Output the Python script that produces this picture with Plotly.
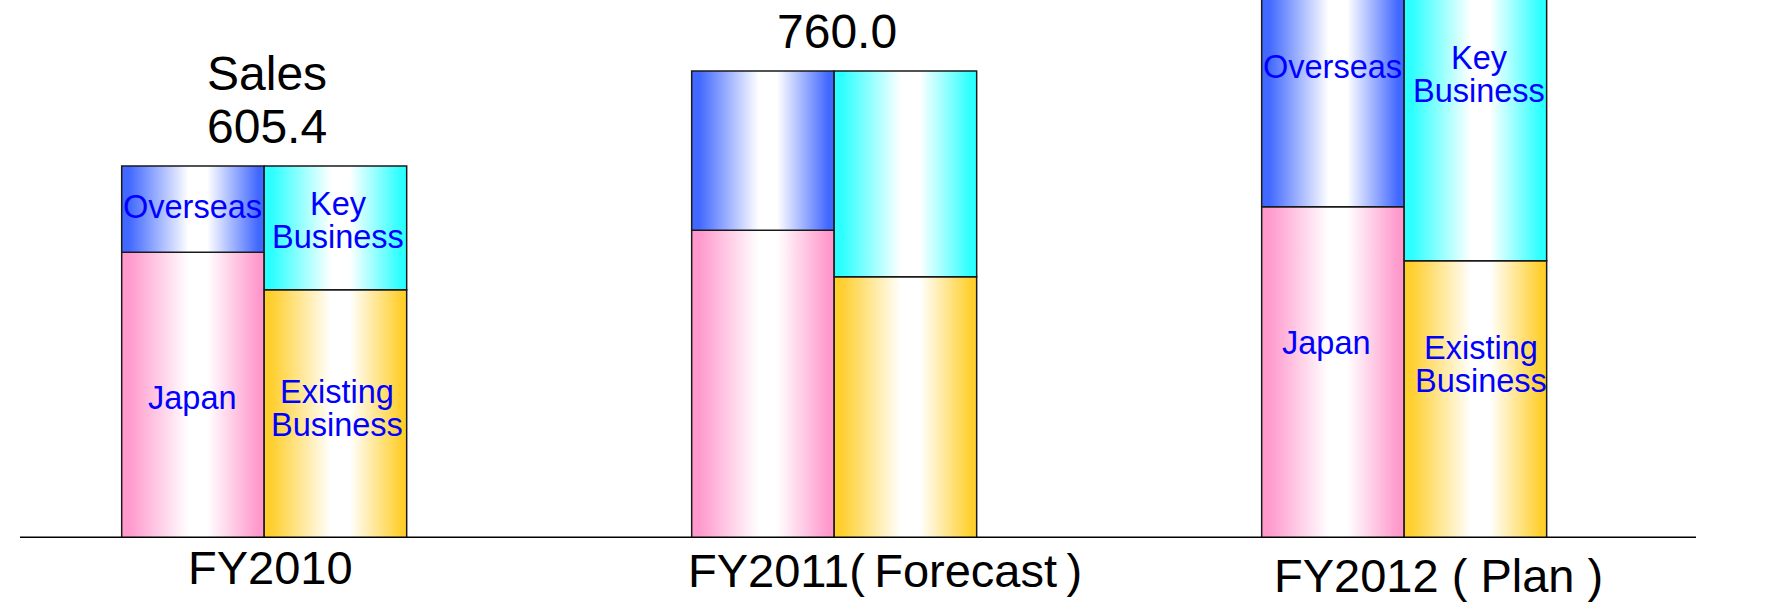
import plotly.graph_objects as go

# ---- data -------------------------------------------------------------
categories = ["FY2010", "FY2011", "FY2012"]
tick_labels = ["FY2010", "FY2011(\u2009Forecast\u2009)", "FY2012 ( Plan )"]

# left column: by region
japan = [465.0, 501.0, 539.0]
overseas = [140.4, 259.0, 461.0]
# right column: by business
existing_business = [404.0, 425.0, 451.0]
key_business = [201.4, 335.0, 549.0]

totals = [j + o for j, o in zip(japan, overseas)]
shown_totals = [True, True, False]

# ---- styling ----------------------------------------------------------
FONT = "Liberation Sans, Arial, Noto Sans CJK JP, sans-serif"
BAR_W = 0.25
OUTLINE = dict(color="#1a1a1a", width=1.5)
LABEL_BLUE = "#0000FF"


def mirror_scale(edge):
    return [[0.0, edge], [0.05, edge], [0.47, "#FFFFFF"], [0.6, "#FFFFFF"],
            [0.96, edge], [1.0, edge]]


PINK = mirror_scale("#FF99CC")
BLUE = mirror_scale("#4168FF")
CYAN = mirror_scale("#2BFFFF")
GOLD = mirror_scale("#FFCF2E")

fig = go.Figure()


def segment(x0, x1, base, value, scale):
    top = base + value
    fig.add_trace(go.Scatter(
        x=[x0, x1, x1, x0, x0],
        y=[base, base, top, top, base],
        mode="lines",
        fill="toself",
        fillgradient=dict(type="horizontal", colorscale=scale),
        line=OUTLINE,
        hoverinfo="skip",
        showlegend=False,
    ))


for i, cat in enumerate(categories):
    c = i
    segment(c - BAR_W, c, 0, japan[i], PINK)
    segment(c - BAR_W, c, japan[i], overseas[i], BLUE)
    segment(c, c + BAR_W, 0, existing_business[i], GOLD)
    segment(c, c + BAR_W, existing_business[i], key_business[i], CYAN)

annotations = []


def text(x, y, s, size, color, xshift=0, yshift=0, xanchor="center"):
    annotations.append(dict(
        x=x, y=y, xref="x", yref="y", text=s, showarrow=False,
        font=dict(family=FONT, size=size, color=color),
        xanchor=xanchor, yanchor="middle", xshift=xshift, yshift=yshift,
        borderpad=0, borderwidth=0,
    ))


def block_label(x, y, lines, xshift=0):
    # stacked lines with tight spacing
    gap = 33
    n = len(lines)
    for k, line in enumerate(lines):
        off = (n - 1) / 2 * gap - k * gap
        text(x, y, line, 32.5, LABEL_BLUE, xshift=xshift, yshift=off)


# segment labels (FY2010 and FY2012 only)
seg_labels = [
    # (category index, column side, y in data units, lines, xshift)
    (0, -1, 539.0, ["Overseas"], 0),
    (0, -1, 228.0, ["Japan"], 0),
    (0, 1, 516.0, ["Key", "Business"], 3),
    (0, 1, 210.0, ["Existing", "Business"], 2),
    (2, -1, 767.0, ["Overseas"], 0),
    (2, -1, 317.0, ["Japan"], -6),
    (2, 1, 753.5, ["Key", "Business"], 4),
    (2, 1, 283.0, ["Existing", "Business"], 6),
]
for ci, side, y, lines, xs in seg_labels:
    block_label(ci + side * BAR_W / 2, y, lines, xshift=xs)

# totals above bars
for i, t in enumerate(totals):
    if shown_totals[i]:
        text(i, t, f"{t:.1f}", 48, "#000000", xshift=3, yshift=39)
text(0, totals[0], "Sales", 48, "#000000", xshift=3, yshift=92)

# category labels under the axis
cat_offsets = [(-76, -29), (-146, -32), (-130, -37)]
for i, lab in enumerate(tick_labels):
    dx, dy = cat_offsets[i]
    text(i, 0, lab, 47, "#000000", xshift=dx, yshift=dy, xanchor="left")

fig.update_layout(
    width=1785, height=604,
    margin=dict(l=20, r=89, t=0, b=66),
    paper_bgcolor="#FFFFFF", plot_bgcolor="#FFFFFF",
    showlegend=False,
    annotations=annotations,
    shapes=[dict(type="line", xref="paper", yref="y", x0=0, x1=1, y0=0, y1=0,
                 line=dict(color="#000000", width=3), layer="above")],
    xaxis=dict(range=[-0.4284, 2.512], visible=False, fixedrange=True),
    yaxis=dict(range=[0, 875.5], visible=False, fixedrange=True),
)

fig.write_html("out.html", config={"displayModeBar": False})
